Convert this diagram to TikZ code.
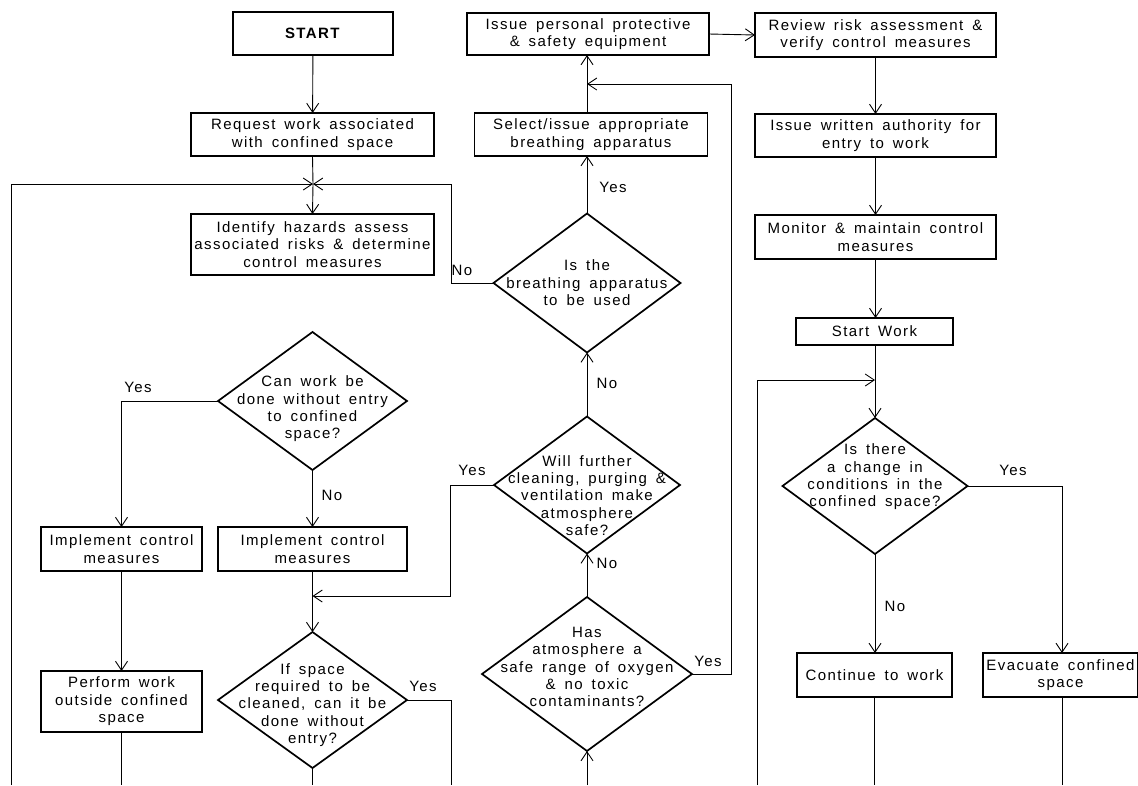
\documentclass[tikz,border=0pt]{standalone}
\usepackage{fontspec}
\setmainfont{Liberation Sans}[LetterSpace=9.5,WordSpace=1.6]
\usetikzlibrary{arrows.meta,shapes.geometric}
\begin{document}
\begin{tikzpicture}[x=1pt,y=-1pt,
  every node/.style={font=\fontsize{15}{17.4}\selectfont, align=center, inner sep=0pt, outer sep=0pt},
  box/.style={draw, line width=1.4pt},
  dia/.style={draw, diamond, line width=1.7pt},
  lab/.style={},
  conn/.style={line width=0.9pt},
  arr/.style={conn, -{Straight Barb[length=9pt,width=12pt,line width=0.9pt]}},
]
\fill[white] (0,0) rectangle (1138,785);
\useasboundingbox (0,0) rectangle (1138,785);

% column 1
\node[box, minimum width=160pt, minimum height=43pt] (start) at (313,33.5) {\textbf{START}};
\node[box, minimum width=243pt, minimum height=43pt] (req) at (312.5,134.5) {Request work associated\\with confined space};
\node[box, minimum width=243pt, minimum height=61pt] (ident) at (312.5,244.5) {Identify hazards assess\\associated risks \& determine\\control measures};
\node[dia, minimum width=189pt, minimum height=138pt] (d1) at (312.5,401) {};
\node (d1t) at (312.5,409) {Can work be\\done without entry\\to confined\\space?};
\node[box, minimum width=161pt, minimum height=44pt] (imp1) at (121.5,549) {Implement control\\measures};
\node[box, minimum width=189pt, minimum height=44pt] (imp2) at (312.5,549) {Implement control\\measures};
\node[box, minimum width=161pt, minimum height=61pt] (perf) at (121.5,701.5) {Perform work\\outside confined\\space};
\node[dia, minimum width=189pt, minimum height=136pt] (d2) at (312.5,700) {};
\node (d2t) at (312.5,705) {If space\\required to be\\cleaned, can it be\\done without\\entry?};

% column 2
\node[box, minimum width=242pt, minimum height=42pt] (ppe) at (588,34) {Issue personal protective\\\& safety equipment};
\node[box, minimum width=233pt, minimum height=43pt] (sel) at (591,134.5) {Select/issue appropriate\\breathing apparatus};
\node[dia, minimum width=187pt, minimum height=139pt] (d3) at (587,283) {};
\node (d3t) at (587,283) {Is the\\breathing apparatus\\to be used};
\node[dia, minimum width=186pt, minimum height=137pt] (d4) at (587,485) {};
\node (d4t) at (587,495.5) {Will further\\cleaning, purging \&\\ventilation make\\atmosphere\\safe?};
\node[dia, minimum width=210pt, minimum height=154pt] (d5) at (587,674) {};
\node (d5t) at (587,667) {Has\\atmosphere a\\safe range of oxygen\\\& no toxic\\contaminants?};

% column 3
\node[box, minimum width=241pt, minimum height=44pt] (rev) at (875.5,35) {Review risk assessment \&\\verify control measures};
\node[box, minimum width=241pt, minimum height=43pt] (auth) at (875.5,135.5) {Issue written authority for\\entry to work};
\node[box, minimum width=241pt, minimum height=44pt] (mon) at (875.5,237) {Monitor \& maintain control\\measures};
\node[box, minimum width=157pt, minimum height=27pt] (sw) at (874.5,331.5) {Start Work};
\node[dia, minimum width=185pt, minimum height=136pt] (d6) at (875,486) {};
\node (d6t) at (875,477) {Is there\\a change in\\conditions in the\\confined space?};
\node[box, minimum width=155pt, minimum height=44pt] (cont) at (874.5,675) {Continue to work};
\node[box, minimum width=155pt, minimum height=44pt] (evac) at (1060.5,675) {Evacuate confined\\space};

% coordinates
\coordinate (j1) at (313,184);
\coordinate (m2) at (312.5,596);
\coordinate (m3) at (587,84);
\coordinate (m6) at (875,380);
\coordinate (bL) at (11,785);
\coordinate (bP) at (121.5,785);
\coordinate (bD2) at (312.5,785);
\coordinate (bY2) at (451,785);
\coordinate (bD5) at (587,785);
\coordinate (bL3) at (757,785);
\coordinate (bC) at (874.5,785);
\coordinate (bE) at (1062,785);

% connectors column 1
\draw[arr] (start) -- (req);
\draw[conn] (req.south) -- (j1);
\draw[arr] (j1) -- (ident.north);
\draw[arr] (bL) -- (11,184) -- (j1);
\draw[arr] (d3.west) -- (451,283) -- (451,184) -- (j1);
\draw[arr] (d1.west) -| (imp1.north);
\draw[arr] (d1.south) -- (imp2.north);
\draw[arr] (imp1.south) -- (perf.north);
\draw[conn] (imp2.south) -- (m2);
\draw[arr] (m2) -- (d2.north);
\draw[arr] (d4.west) -- (450,485) -- (450,596) -- (m2);
\draw[conn] (d2.east) -- (451,700) -- (bY2);
\draw[conn] (d2.south) -- (bD2);
\draw[conn] (perf.south) -- (bP);

% connectors column 2
\draw[arr] (bD5) -- (d5.south);
\draw[arr] (d5.north) -- (d4.south);
\draw[arr] (d4.north) -- (d3.south);
\draw[arr] (d3.north) -- (d3.north |- sel.south);
\draw[conn] (sel.north -| m3) -- (m3);
\draw[arr] (m3) -- (m3 |- ppe.south);
\draw[arr] (d5.east) -- (731,674) -- (731,84) -- (m3);
\draw[arr] (ppe.east) -- (rev.west);

% connectors column 3
\draw[arr] (rev.south) -- (auth.north);
\draw[arr] (auth.south) -- (mon.north);
\draw[arr] (mon.south) -- (mon.south |- sw.north);
\draw[conn] (sw.south -| m6) -- (m6);
\draw[arr] (m6) -- (d6.north);
\draw[arr] (bL3) -- (757,380) -- (m6);
\draw[arr] (d6.east) -- (1062,486) -- (evac.north -| bE);
\draw[arr] (d6.south) -- (cont.north -| d6.south);
\draw[conn] (cont.south) -- (bC);
\draw[conn] (evac.south -| bE) -- (bE);

% labels
\node[lab] (l1) at (138,387) {Yes};
\node[lab] (l2) at (332,495) {No};
\node[lab] (l3) at (462,270) {No};
\node[lab] (l4) at (423,686) {Yes};
\node[lab] (l5) at (472,470) {Yes};
\node[lab] (l6) at (607,383) {No};
\node[lab] (l7) at (613,187) {Yes};
\node[lab] (l8) at (607,563) {No};
\node[lab] (l9) at (708,661) {Yes};
\node[lab] (l10) at (1013,470) {Yes};
\node[lab] (l11) at (895,606) {No};
\end{tikzpicture}
\end{document}
